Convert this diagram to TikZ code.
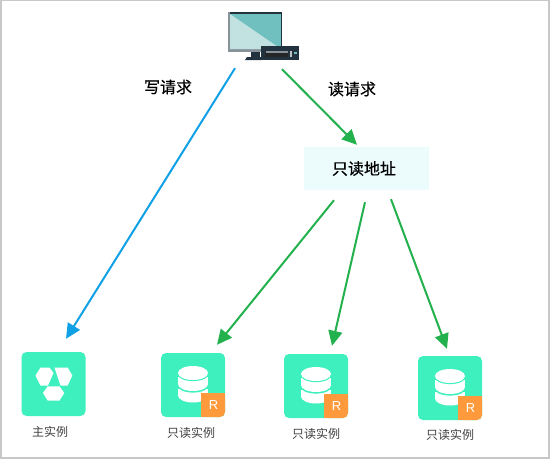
\documentclass[tikz,border=0pt]{standalone}
\usepackage{fontspec}
\setmainfont{Noto Sans CJK SC}
\newfontfamily\latinfont{Liberation Sans}
\newfontfamily\reqfont[FakeBold=0.5]{Noto Sans CJK SC}
\usetikzlibrary{arrows.meta}
\definecolor{iconteal}{HTML}{3FF0BF}
\definecolor{badgeorange}{HTML}{FF9A3C}
\definecolor{writeblue}{HTML}{0FA0E6}
\definecolor{readgreen}{HTML}{22B14C}
\definecolor{addrfill}{HTML}{ECFCFD}
\definecolor{framegray}{HTML}{C8C8C8}
\definecolor{pcdark}{HTML}{22323F}
\definecolor{pcgray}{HTML}{87929A}
\definecolor{screenteal}{HTML}{6FC0BF}
\definecolor{screenlight}{HTML}{C2E1E1}
\tikzset{
  iconbox/.style={fill=iconteal,rounded corners=5pt,minimum width=64pt,minimum height=64pt,inner sep=0pt},
  addrbox/.style={fill=addrfill,minimum width=125pt,minimum height=43pt,inner sep=0pt},
  reqtext/.style={inner sep=0pt,font=\reqfont\fontsize{16}{18}\selectfont},
  icontext/.style={inner sep=0pt,text=black!75,font=\fontsize{12}{14}\selectfont},
  badgetext/.style={inner sep=0pt,text=white,font=\latinfont\fontsize{13}{14}\selectfont},
  writearrow/.style={writeblue,line width=2pt,-{Triangle[length=15pt,width=14pt]}},
  readarrow/.style={readgreen,line width=2pt,-{Triangle[length=15pt,width=14pt]}}
}
\begin{document}
\begin{tikzpicture}[x=1pt,y=-1pt]
\useasboundingbox (0,0) rectangle (550,459);
\draw[framegray,line width=1.5pt] (1,0.5) rectangle (549,458);

% ---------- PC ----------
\node[minimum width=72pt,minimum height=48pt,inner sep=0pt] (pc) at (264,36) {};
\fill[pcdark] (228,12) rectangle (282,52);
\fill[pcgray] (228,12) rectangle (230,52);
\fill[pcgray] (228,49) rectangle (282,52);
\fill[screenteal] (230,14) rectangle (281,49);
\fill[screenlight] (230,14) -- (281,49) -- (230,49) -- cycle;
\fill[pcdark] (251,52) rectangle (260,57);
\fill[pcdark] (247,57) -- (261,57) -- (261,60) -- (245,60) -- cycle;
\fill[pcdark] (261,46) rectangle (299,60);
\fill[black!85] (265,51) rectangle (288,57);
\fill[pcgray] (266,51) rectangle (288,53);
\fill[white!70!pcdark] (290,51) rectangle (292,57);
\fill[screenteal] (294,52) rectangle (297,54);

% ---------- labels and address ----------
\node[reqtext] (writelabel) at (168,87) {写请求};
\node[reqtext] (readlabel) at (352,89) {读请求};
\node[addrbox] (readaddr) at (366.5,168.5) {};
\node[reqtext] (addrtext) at (364,168.5) {只读地址};

% ---------- main instance ----------
\node[iconbox] (master) at (53.5,384) {};
\fill[white] (35.5,375.5) -- (40.5,367.5) -- (49.5,367.5) -- (53.5,373) -- (48,385.5) -- (40.5,385.5) -- cycle;
\fill[white] (54.5,367.5) -- (67.7,367.5) -- (72.3,375.5) -- (67.7,385.5) -- (60.5,385.5) -- cycle;
\fill[white] (43,393) -- (47.7,386.3) -- (59.5,386.3) -- (64.3,393) -- (59.5,400.5) -- (47.7,400.5) -- cycle;
\node[icontext] (mastertext) at (50,432) {主实例};

% ---------- read instances ----------
\foreach \n/\x/\y/\tx/\ty in {1/193/385/191/433,2/316/386/316/434,3/450/388/450/435}{
  \node[iconbox] (read\n) at (\x,\y) {};
  \begin{scope}[shift={(\x,\y)}]
    \foreach \dy in {10.5,-1}{
      \fill[white] (-15,\dy-7) rectangle (15,\dy);
      \fill[white] (0,\dy) ellipse [x radius=15,y radius=7];
      \fill[iconteal] (0,\dy-9.9) ellipse [x radius=15.5,y radius=7];
    }
    \fill[white] (0,-12) ellipse [x radius=15,y radius=7];
    \fill[badgeorange,rounded corners=5pt] (8,8) -- (32,8) -- (32,32) -- (8,32) -- (8,20) -- cycle;
    \fill[badgeorange] (8,8) rectangle (20,32);
    \fill[badgeorange] (8,8) rectangle (32,20);
    \node[badgetext] (badge\n) at (20.5,20.5) {R};
  \end{scope}
  \node[icontext] (readtext\n) at (\tx,\ty) {只读实例};
}

% ---------- requests ----------
\draw[writearrow] ([xshift=-29pt,yshift=-8pt]pc.south) -- ([xshift=12.5pt,yshift=13pt]master.north);
\draw[readarrow] ([xshift=18pt,yshift=-9pt]pc.south) -- ([xshift=-9.5pt,yshift=2pt]readaddr.north);
\draw[readarrow] ([xshift=-32.5pt,yshift=-10pt]readaddr.south) -- ([xshift=24pt,yshift=8pt]read1.north);
\draw[readarrow] ([xshift=-1.5pt,yshift=-12pt]readaddr.south) -- ([xshift=16pt,yshift=8pt]read2.north);
\draw[readarrow] ([xshift=24.5pt,yshift=-9pt]readaddr.south) -- ([xshift=-3pt,yshift=7pt]read3.north);

\end{tikzpicture}
\end{document}
